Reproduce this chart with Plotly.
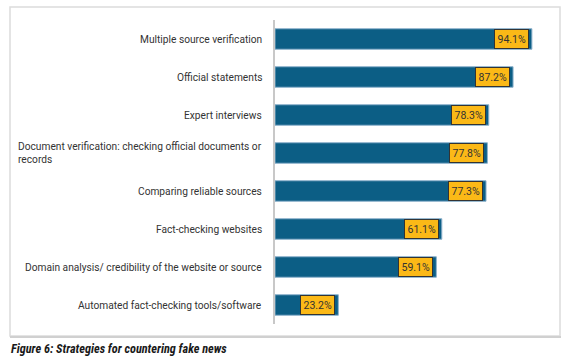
import plotly.graph_objects as go

categories = [
    "Multiple source verification",
    "Official statements",
    "Expert interviews",
    "Document verification: checking official documents or<br>records",
    "Comparing reliable sources",
    "Fact-checking websites",
    "Domain analysis/ credibility of the website or source",
    "Automated fact-checking tools/software",
]
values = [94.1, 87.2, 78.3, 77.8, 77.3, 61.1, 59.1, 23.2]
value_labels = ["94.1%", "87.2%", "78.3%", "77.8%", "77.3%", "61.1%", "59.1%", "23.2%"]
caption = "Figure 6: Strategies for countering fake news"

W, H = 574, 363
L, R, T, B = 275, 26, 20, 39
pw, ph = W - L - R, H - T - B

def px2x(px):
    return (px - L) / pw

def py2y(py):
    return (H - B - py) / ph

fig = go.Figure(go.Bar(
    x=values, y=categories, orientation="h",
    marker=dict(color="#0c5e85", line=dict(color="#8db2cc", width=1)),
    width=0.54, hoverinfo="skip",
))

annotations = []
for c in categories:
    annotations.append(dict(
        x=0, xref="paper", y=c, yref="y", text=c, showarrow=False,
        xanchor="right", xshift=-11, align="left",
        font=dict(family="Roboto, sans-serif", size=10.2, color="#333333"),
    ))
for c, v, t in zip(categories, values, value_labels):
    annotations.append(dict(
        x=v, xref="x", y=c, yref="y", text=t, showarrow=False,
        xanchor="right", xshift=-3,
        bgcolor="#fbb917", bordercolor="#333333", borderwidth=1, borderpad=2.5,
        font=dict(family="Roboto, sans-serif", size=10.5, color="#333333"),
    ))
annotations.append(dict(
    x=px2x(9), xref="paper", y=py2y(349), yref="paper", text="<b><i>" + caption + "</i></b>",
    showarrow=False, xanchor="left", yanchor="middle",
    font=dict(family="Liberation Sans Narrow, Roboto Condensed, Roboto, sans-serif", size=12.3, color="#1a1a1a"),
))

fig.update_layout(
    width=W, height=H,
    margin=dict(l=L, r=R, t=T, b=B),
    paper_bgcolor="white", plot_bgcolor="white",
    showlegend=False,
    xaxis=dict(range=[0, 100], visible=False, fixedrange=True),
    yaxis=dict(autorange="reversed", showticklabels=False, showgrid=False,
               showline=True, linecolor="#c8c8c8", linewidth=1.5, ticks="",
               zeroline=False, fixedrange=True),
    annotations=annotations,
    shapes=[
        dict(type="rect", xref="paper", yref="paper",
             x0=px2x(10), x1=px2x(560), y0=py2y(336), y1=py2y(7),
             line=dict(color="#dcdcdc", width=1.5), fillcolor="rgba(0,0,0,0)", layer="below"),
        dict(type="line", xref="paper", yref="paper",
             x0=px2x(10), x1=px2x(561), y0=py2y(337), y1=py2y(337),
             line=dict(color="#d0d0d0", width=2), layer="below"),
    ],
)

fig.write_html("out.html", config={"displayModeBar": False},
               post_script="document.body.style.margin='0';document.body.style.overflow='hidden';")
